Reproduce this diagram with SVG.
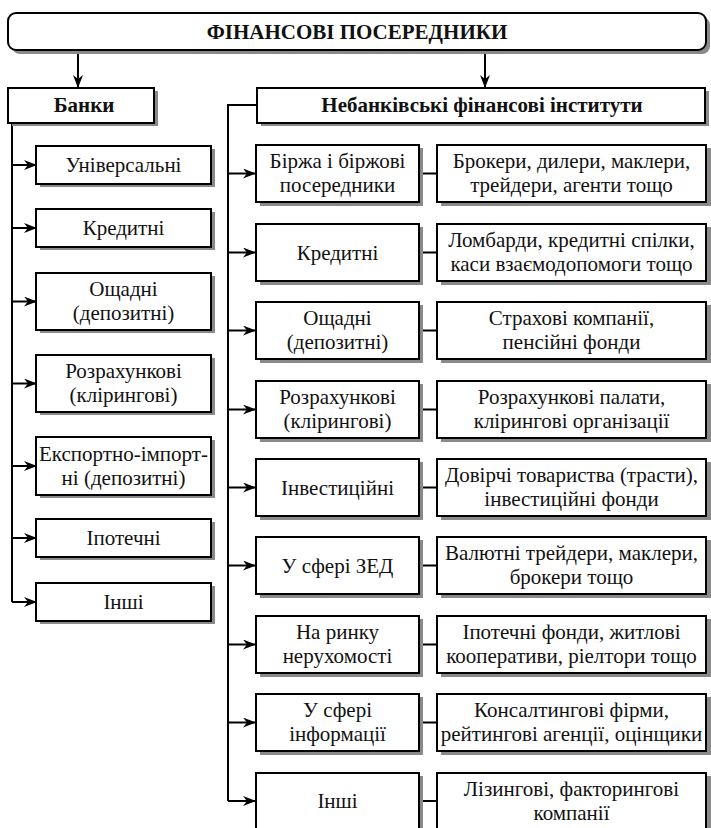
<svg xmlns="http://www.w3.org/2000/svg" width="711" height="828" viewBox="0 0 711 828" font-family="Liberation Serif, Tinos, DejaVu Serif, serif">
<style>
.box{fill:#fff;stroke:#000;stroke-width:2}
.sh{fill:#8a8a8a}
.ln{fill:none;stroke:#000;stroke-width:2}
text{font-family:'Liberation Serif',Tinos,'Times New Roman','DejaVu Serif',serif;font-size:21px;fill:#111;text-anchor:middle}
.bold{font-weight:bold}
</style>
<defs>
<marker id="ar" markerWidth="14" markerHeight="10" refX="12" refY="5" orient="auto" markerUnits="userSpaceOnUse">
<path d="M0,0 L13,5 L0,10 L4,5 z" fill="#000"/>
</marker>
</defs>
<rect width="711" height="828" fill="#fff"/>

<g id="connectors">
<path class="ln" d="M78,50 V87" marker-end="url(#ar)"/>
<path class="ln" d="M485,50 V87" marker-end="url(#ar)"/>
<path class="ln" d="M12,123 V602"/>
<path class="ln" d="M12,165 H36" marker-end="url(#ar)"/>
<path class="ln" d="M12,228 H36" marker-end="url(#ar)"/>
<path class="ln" d="M12,301.5 H36" marker-end="url(#ar)"/>
<path class="ln" d="M12,383.5 H36" marker-end="url(#ar)"/>
<path class="ln" d="M12,466 H36" marker-end="url(#ar)"/>
<path class="ln" d="M12,538 H36" marker-end="url(#ar)"/>
<path class="ln" d="M12,602 H36" marker-end="url(#ar)"/>
<path class="ln" d="M257,105 H228 V801"/>
<path class="ln" d="M228,173.5 H255" marker-end="url(#ar)"/>
<path class="ln" d="M228,252.5 H255" marker-end="url(#ar)"/>
<path class="ln" d="M228,330.5 H255" marker-end="url(#ar)"/>
<path class="ln" d="M228,409.5 H255" marker-end="url(#ar)"/>
<path class="ln" d="M228,487.5 H255" marker-end="url(#ar)"/>
<path class="ln" d="M228,565.5 H255" marker-end="url(#ar)"/>
<path class="ln" d="M228,644.5 H255" marker-end="url(#ar)"/>
<path class="ln" d="M228,722.5 H255" marker-end="url(#ar)"/>
<path class="ln" d="M228,801 H255" marker-end="url(#ar)"/>
<path class="ln" d="M419,173.5 H437 M419,252.5 H437 M419,330.5 H437 M419,409.5 H437 M419,487.5 H437 M419,565.5 H437 M419,644.5 H437 M419,722.5 H437 M419,801 H437"/>
</g>

<g id="root">
<rect class="sh" x="12" y="17" width="698" height="37" rx="8"/>
<rect class="box" x="8" y="13" width="698" height="37" rx="8"/>
<text class="bold" x="357" y="39">ФІНАНСОВІ ПОСЕРЕДНИКИ</text>
</g>

<g id="banks">
<rect class="sh" x="12" y="91" width="146" height="35"/>
<rect class="box" x="8" y="88" width="146" height="35"/>
<text class="bold" x="84" y="112">Банки</text>
</g>
<g id="nonbanks">
<rect class="sh" x="261" y="91" width="448" height="35"/>
<rect class="box" x="257" y="88" width="448" height="35"/>
<text class="bold" x="482" y="112">Небанківські фінансові інститути</text>
</g>

<g id="b1"><rect class="sh" x="40" y="149" width="175" height="38"/><rect class="box" x="36" y="146" width="175" height="38"/><text x="123.5" y="172">Універсальні</text></g>
<g id="b2"><rect class="sh" x="40" y="212" width="175" height="38"/><rect class="box" x="36" y="209" width="175" height="38"/><text x="123.5" y="235">Кредитні</text></g>
<g id="b3"><rect class="sh" x="40" y="276" width="175" height="57"/><rect class="box" x="36" y="273" width="175" height="57"/><text x="123.5" y="296">Ощадні</text><text x="123.5" y="320">(депозитні)</text></g>
<g id="b4"><rect class="sh" x="40" y="358" width="175" height="57"/><rect class="box" x="36" y="355" width="175" height="57"/><text x="123.5" y="378">Розрахункові</text><text x="123.5" y="402">(клірингові)</text></g>
<g id="b5"><rect class="sh" x="40" y="440" width="175" height="58"/><rect class="box" x="36" y="437" width="175" height="58"/><text x="123.5" y="461">Експортно-імпорт-</text><text x="123.5" y="485">ні (депозитні)</text></g>
<g id="b6"><rect class="sh" x="40" y="522" width="175" height="38"/><rect class="box" x="36" y="519" width="175" height="38"/><text x="123.5" y="545">Іпотечні</text></g>
<g id="b7"><rect class="sh" x="40" y="586" width="175" height="38"/><rect class="box" x="36" y="583" width="175" height="38"/><text x="123.5" y="609">Інші</text></g>

<g id="n1"><rect class="sh" x="260" y="148" width="163" height="58"/><rect class="box" x="256" y="145" width="163" height="57"/><text x="337.5" y="168">Біржа і біржові</text><text x="337.5" y="192">посередники</text></g>
<g id="d1"><rect class="sh" x="441" y="148" width="270" height="58"/><rect class="box" x="437" y="145" width="269" height="57"/><text x="571.5" y="168">Брокери, дилери, маклери,</text><text x="571.5" y="192">трейдери, агенти тощо</text></g>

<g id="n2"><rect class="sh" x="260" y="227" width="163" height="58"/><rect class="box" x="256" y="224" width="163" height="57"/><text x="337.5" y="259.5">Кредитні</text></g>
<g id="d2"><rect class="sh" x="441" y="227" width="270" height="58"/><rect class="box" x="437" y="224" width="269" height="57"/><text x="571.5" y="247">Ломбарди, кредитні спілки,</text><text x="571.5" y="271">каси взаємодопомоги  тощо</text></g>

<g id="n3"><rect class="sh" x="260" y="305" width="163" height="58"/><rect class="box" x="256" y="302" width="163" height="57"/><text x="337.5" y="325">Ощадні</text><text x="337.5" y="349">(депозитні)</text></g>
<g id="d3"><rect class="sh" x="441" y="305" width="270" height="58"/><rect class="box" x="437" y="302" width="269" height="57"/><text x="571.5" y="325">Страхові компанії,</text><text x="571.5" y="349">пенсійні фонди</text></g>

<g id="n4"><rect class="sh" x="260" y="384" width="163" height="58"/><rect class="box" x="256" y="381" width="163" height="57"/><text x="337.5" y="404">Розрахункові</text><text x="337.5" y="428">(клірингові)</text></g>
<g id="d4"><rect class="sh" x="441" y="384" width="270" height="58"/><rect class="box" x="437" y="381" width="269" height="57"/><text x="571.5" y="404">Розрахункові палати,</text><text x="571.5" y="428">клірингові організації</text></g>

<g id="n5"><rect class="sh" x="260" y="462" width="163" height="58"/><rect class="box" x="256" y="459" width="163" height="57"/><text x="337.5" y="494.5">Інвестиційні</text></g>
<g id="d5"><rect class="sh" x="441" y="462" width="270" height="58"/><rect class="box" x="437" y="459" width="269" height="57"/><text x="571.5" y="482">Довірчі товариства (трасти),</text><text x="571.5" y="506">інвестиційні фонди</text></g>

<g id="n6"><rect class="sh" x="260" y="540" width="163" height="58"/><rect class="box" x="256" y="537" width="163" height="57"/><text x="337.5" y="572.5">У сфері ЗЕД</text></g>
<g id="d6"><rect class="sh" x="441" y="540" width="270" height="58"/><rect class="box" x="437" y="537" width="269" height="57"/><text x="571.5" y="560">Валютні трейдери, маклери,</text><text x="571.5" y="584">брокери тощо</text></g>

<g id="n7"><rect class="sh" x="260" y="619" width="163" height="58"/><rect class="box" x="256" y="616" width="163" height="57"/><text x="337.5" y="639">На ринку</text><text x="337.5" y="663">нерухомості</text></g>
<g id="d7"><rect class="sh" x="441" y="619" width="270" height="58"/><rect class="box" x="437" y="616" width="269" height="57"/><text x="571.5" y="639">Іпотечні фонди, житлові</text><text x="571.5" y="663">кооперативи, ріелтори тощо</text></g>

<g id="n8"><rect class="sh" x="260" y="697" width="163" height="58"/><rect class="box" x="256" y="694" width="163" height="57"/><text x="337.5" y="717">У сфері</text><text x="337.5" y="741">інформації</text></g>
<g id="d8"><rect class="sh" x="441" y="697" width="270" height="58"/><rect class="box" x="437" y="694" width="269" height="57"/><text x="571.5" y="717">Консалтингові фірми,</text><text x="571.5" y="741">рейтингові агенції, оцінщики</text></g>

<g id="n9"><rect class="sh" x="260" y="776" width="163" height="58"/><rect class="box" x="256" y="773" width="163" height="57"/><text x="337.5" y="808">Інші</text></g>
<g id="d9"><rect class="sh" x="441" y="776" width="270" height="58"/><rect class="box" x="437" y="773" width="269" height="57"/><text x="571.5" y="796">Лізингові, факторингові</text><text x="571.5" y="820">компанії</text></g>
</svg>
